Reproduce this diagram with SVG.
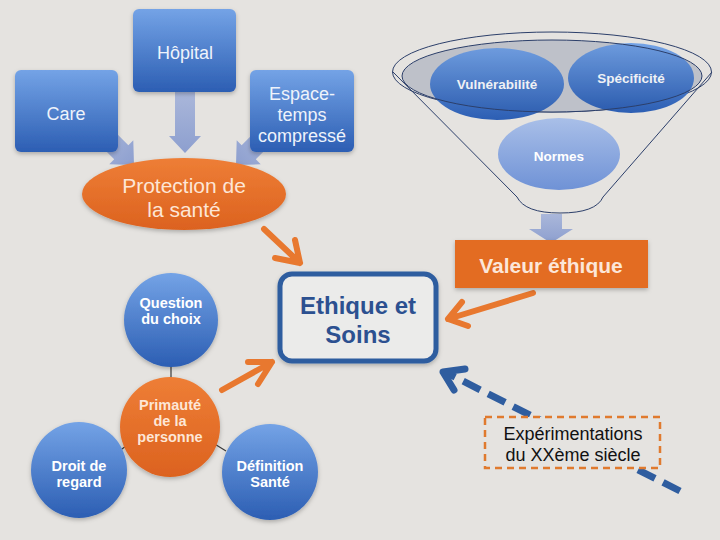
<svg xmlns="http://www.w3.org/2000/svg" width="720" height="540" viewBox="0 0 720 540">
<defs>
  <linearGradient id="gBlue" x1="0" y1="0" x2="0" y2="1">
    <stop offset="0" stop-color="#74a3e6"/>
    <stop offset="1" stop-color="#2c5eb3"/>
  </linearGradient>
  <linearGradient id="gBlueLight" x1="0" y1="0" x2="0" y2="1">
    <stop offset="0" stop-color="#a9bfe8"/>
    <stop offset="1" stop-color="#6f92d6"/>
  </linearGradient>
  <linearGradient id="gOrange" x1="0" y1="0" x2="0" y2="1">
    <stop offset="0" stop-color="#ee7e36"/>
    <stop offset="1" stop-color="#dc621f"/>
  </linearGradient>
  <linearGradient id="gArrow" x1="0" y1="0" x2="0" y2="1">
    <stop offset="0" stop-color="#aab7da"/>
    <stop offset="1" stop-color="#8d9fcf"/>
  </linearGradient>
  <filter id="sh" x="-20%" y="-20%" width="140%" height="150%">
    <feDropShadow dx="0" dy="2" stdDeviation="2" flood-color="#000" flood-opacity="0.25"/>
  </filter>
  <style>
    .box{fill:url(#gBlue);filter:url(#sh)}
    .circ{fill:url(#gBlue);filter:url(#sh)}
    .orng{fill:url(#gOrange);filter:url(#sh)}
    .t{font-family:"Liberation Sans",Arial,sans-serif;text-anchor:middle}
    .tb{fill:#eef3fb;font-size:18px}
    .tc{fill:#ffffff;font-size:14.5px;font-weight:bold}
    .tf{fill:#ffffff;font-size:13.5px;font-weight:bold}
    .to{fill:#fde6d6}
    .oa{fill:none;stroke:#e8782f;stroke-width:6;stroke-linecap:round;stroke-linejoin:round}
    .fa{fill:url(#gArrow)}
    .lk{stroke:#3a3a3a;stroke-width:1.2}
  </style>
</defs>
<rect width="720" height="540" fill="#e5e3e0"/>

<g id="connectors">
  <polygon class="fa" points="175,92 195,92 195,136 201,136 185,153 169,136 175,136"/>
  <polygon class="fa" transform="translate(134,165) rotate(-45)" points="-10,-50 10,-50 10,-18 17,-18 0,0 -17,-18 -10,-18"/>
  <polygon class="fa" transform="translate(236,165) rotate(45)" points="-10,-50 10,-50 10,-18 17,-18 0,0 -17,-18 -10,-18"/>
  <polygon class="fa" points="541,214 562,214 562,229 573,229 551,243 529,229 541,229"/>
  <path class="oa" d="M264,229 L300,263 M275,258 L300,263 L295,240"/>
  <path class="oa" d="M533,293 L448,319 M462,302 L448,319 L468,326"/>
  <path class="oa" d="M222,390 L272,362 M248,362 L272,362 L258,384"/>
  <line class="lk" x1="171" y1="367" x2="171" y2="378"/>
  <line class="lk" x1="126" y1="446" x2="118" y2="452"/>
  <line class="lk" x1="213" y1="443" x2="226" y2="451"/>
  <path d="M680,491 L445,372" fill="none" stroke="#2f5d9f" stroke-width="7" stroke-dasharray="19,9"/>
  <path d="M465,369 L443,372 L454,390" fill="none" stroke="#2f5d9f" stroke-width="7" stroke-linecap="round" stroke-linejoin="round"/>
</g>

<g id="node-care">
  <rect class="box" x="15" y="70" width="103" height="82" rx="6"/>
  <text class="t tb" x="66" y="120">Care</text>
</g>
<g id="node-hopital">
  <rect class="box" x="133" y="9" width="103" height="83" rx="6"/>
  <text class="t tb" x="185" y="59">Hôpital</text>
</g>
<g id="node-espace">
  <rect class="box" x="250" y="70" width="104" height="82" rx="6"/>
  <text class="t tb" x="302" y="100">Espace-</text>
  <text class="t tb" x="302" y="121">temps</text>
  <text class="t tb" x="302" y="142">compressé</text>
</g>
<g id="node-protection">
  <ellipse class="orng" cx="184" cy="194" rx="102" ry="36"/>
  <text class="t to" font-size="21" x="184" y="193">Protection de</text>
  <text class="t to" font-size="21" x="184" y="217">la santé</text>
</g>

<g id="node-funnel">
  <path d="M393,72 L517,197 Q525,213 560,213 Q596,213 603,197 L712,72" fill="none" stroke="#2c3f6a" stroke-width="1"/>
  <ellipse cx="552" cy="72" rx="159.5" ry="40" fill="none" stroke="#2c3f6a" stroke-width="1"/>
  <ellipse cx="552" cy="76" rx="150" ry="36" fill="#cbccd0"/>
</g>
<g id="node-vulnerabilite">
  <ellipse cx="497" cy="84" rx="67" ry="36" fill="url(#gBlue)"/>
  <text class="t tf" x="497" y="89">Vulnérabilité</text>
</g>
<g id="node-specificite">
  <ellipse cx="631" cy="78" rx="63" ry="35" fill="url(#gBlue)"/>
  <text class="t tf" font-size="14" x="631" y="83">Spécificité</text>
</g>
<g id="node-normes">
  <ellipse cx="559" cy="154" rx="61" ry="36" fill="url(#gBlueLight)"/>
  <text class="t tf" x="559" y="161">Normes</text>
</g>
<g id="funnel-rim">
  <ellipse cx="552" cy="76" rx="150" ry="36" fill="#1d3570" fill-opacity="0.07" stroke="#2c3f6a" stroke-width="1"/>
</g>

<g id="node-valeur">
  <rect x="455" y="240" width="193" height="48" fill="#e36c22" filter="url(#sh)"/>
  <text class="t" fill="#fce6d8" font-size="21" font-weight="bold" x="551" y="273">Valeur éthique</text>
</g>

<g id="node-ethique">
  <rect x="280" y="274" width="156" height="87" rx="12" fill="#ebebea" stroke="#2f5d9f" stroke-width="5" filter="url(#sh)"/>
  <text class="t" fill="#2c5090" font-size="24" font-weight="bold" x="358" y="314">Ethique et</text>
  <text class="t" fill="#2c5090" font-size="24" font-weight="bold" x="358" y="343">Soins</text>
</g>

<g id="node-question">
  <circle class="circ" cx="171" cy="320" r="47"/>
  <text class="t tc" x="171" y="308">Question</text>
  <text class="t tc" x="171" y="324">du choix</text>
</g>
<g id="node-primaute">
  <circle class="orng" cx="170" cy="427" r="50"/>
  <text class="t tc" x="170" y="410" style="fill:#fde6d6">Primauté</text>
  <text class="t tc" x="170" y="426" style="fill:#fde6d6">de la</text>
  <text class="t tc" x="170" y="442" style="fill:#fde6d6">personne</text>
</g>
<g id="node-droit">
  <circle class="circ" cx="79" cy="470" r="48"/>
  <text class="t tc" x="79" y="471">Droit de</text>
  <text class="t tc" x="79" y="487">regard</text>
</g>
<g id="node-definition">
  <circle class="circ" cx="270" cy="472" r="48"/>
  <text class="t tc" x="270" y="471">Définition</text>
  <text class="t tc" x="270" y="487">Santé</text>
</g>

<g id="node-experimentations">
  <rect x="485" y="417" width="175" height="51" fill="#e5e3e0" stroke="#e07a2e" stroke-width="2.5" stroke-dasharray="7,5"/>
  <text class="t" fill="#111" font-size="18" x="573" y="440">Expérimentations</text>
  <text class="t" fill="#111" font-size="18" x="573" y="461">du XXème siècle</text>
</g>
</svg>
